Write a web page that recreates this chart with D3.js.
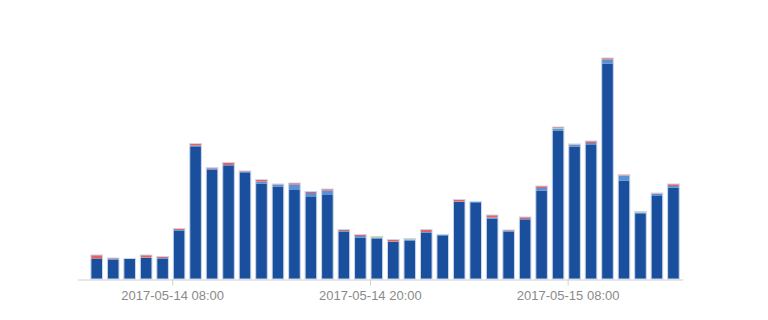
<!DOCTYPE html>
<html><head><meta charset="utf-8">
<script src="https://cdn.jsdelivr.net/npm/d3@7"></script>
<style>body{margin:0;background:#fff;}svg{display:block;}</style>
</head><body><svg id="c" width="768" height="320"></svg>
<script>
// hourly buckets starting 2017-05-14 03:00
const startHour = "2017-05-14T03:00:00";
const seriesNames = ["dark", "light", "green", "red"];
const darkValues  = [41,39,40,42,41,97,264,219,226,212,191,185,178,164,168,95,83,81,74,77,93,86,154,152,121,95,118,177,297,265,268,431,197,130,166,183,10];
const lightValues = [0,1,0,1,1,1,3,2,2,2,4,4,11,8,9,1,3,1,1,2,1,3,1,2,2,1,2,5,4,3,4,8,9,3,4,3,0];
const greenValues = [0,0,0,0,0,0,0,0,0,0,0,0,0,0,0,0,0,2,0,1,0,0,0,0,0,0,0,0,1,1,0,0,1,1,1,0,0];
const redValues   = [7,2,1,5,3,3,4,2,5,2,4,1,3,3,3,3,3,1,4,1,5,0,4,1,5,2,4,4,2,1,4,3,2,1,1,4,0];
const tickLabels = ["2017-05-14 08:00", "2017-05-14 20:00", "2017-05-15 08:00"];
const colors = ["#1a4f9e", "#5d8fd3", "#b9d08e", "#e5625d"];

const parse = d3.timeParse("%Y-%m-%dT%H:%M:%S");
const parseTick = d3.timeParse("%Y-%m-%d %H:%M");
const t0 = parse(startHour);
const data = darkValues.map((v, i) => ({
  t: d3.timeHour.offset(t0, i),
  dark: v, light: lightValues[i], green: greenValues[i], red: redValues[i]
}));

const svg = d3.select("#c");
const x = d3.scaleTime()
  .domain([d3.timeMinute.offset(t0, -43), d3.timeHour.offset(t0, 36)])
  .range([78, 683]);
const y = d3.scaleLinear().domain([0, 500]).range([279, 29]);

svg.append("defs").append("clipPath").attr("id", "clip")
  .append("rect").attr("x", 78).attr("y", 0).attr("width", 605.5).attr("height", 290);

const stack = d3.stack().keys(seriesNames)(data);
const bw = 11.6;
const g = svg.append("g").attr("clip-path", "url(#clip)");
g.selectAll("g.s").data(stack).join("g").attr("class", "s")
  .attr("fill", (d, i) => colors[i])
  .selectAll("rect").data(d => d).join("rect")
  .attr("x", d => x(d.data.t) + 1.1)
  .attr("width", bw)
  .attr("y", d => y(d[1]))
  .attr("height", d => Math.max(0, y(d[0]) - y(d[1])));

g.selectAll("rect.o").data(data).join("rect").attr("class", "o")
  .attr("x", d => x(d.t) + 1.1)
  .attr("width", bw)
  .attr("y", d => y(d.dark + d.light + d.green + d.red))
  .attr("height", d => y(0) - y(d.dark + d.light + d.green + d.red))
  .attr("fill", "none").attr("stroke", "#c9d6ea").attr("stroke-width", 1);

const axis = d3.axisBottom(x)
  .tickValues(tickLabels.map(s => parseTick(s)))
  .tickFormat(d3.timeFormat("%Y-%m-%d %H:%M"))
  .tickSize(6).tickPadding(5);
const ax = svg.append("g").attr("transform", "translate(0,279.5)").call(axis);
ax.select(".domain").attr("stroke", "#d0d0d0").attr("d", "M78,0.5H683");
ax.selectAll(".tick line").attr("stroke", "#d0d0d0");
ax.selectAll(".tick text").attr("fill", "#8a8a8a")
  .style("font-family", "Liberation Sans, Arial, sans-serif").style("font-size", "13px");
</script></body></html>
